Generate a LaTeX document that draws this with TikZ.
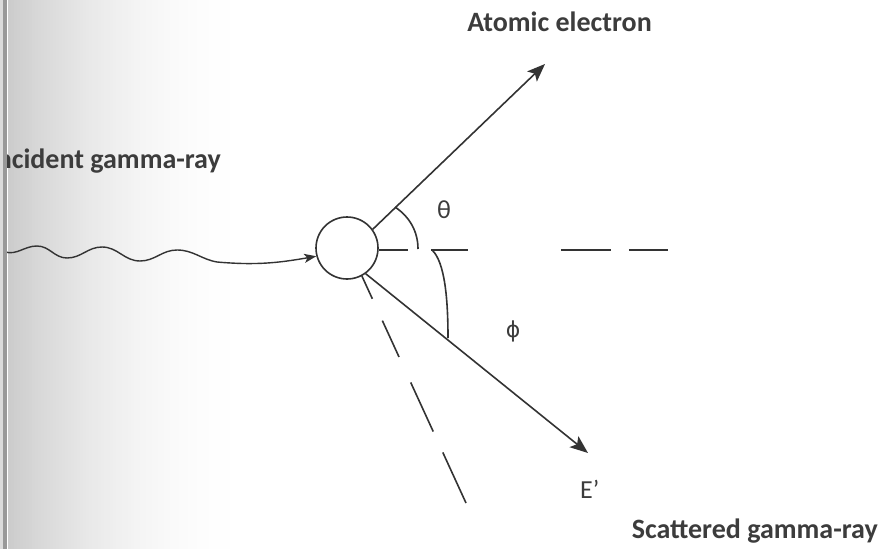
\documentclass[tikz,border=0pt]{standalone}
\usepackage{fontspec}
\setmainfont{Carlito}
\newfontfamily\symfont{DejaVu Sans}
\usetikzlibrary{arrows.meta}
\definecolor{ink}{HTML}{333333}
\definecolor{txt}{HTML}{3C3C3C}
\begin{document}
\begin{tikzpicture}[x=1pt,y=-1pt,
  ray/.style={draw=ink,line width=1.6pt},
  tip/.style={-{Stealth[length=18pt,width=14pt,inset=4pt]}},
  label/.style={text=txt,font=\fontsize{28}{32}\selectfont\bfseries,inner sep=0pt},
  sym/.style={text=txt,font=\fontsize{26}{30}\selectfont,inner sep=0pt}]
\useasboundingbox (0,0) rectangle (880,549);
\clip (0,0) rectangle (880,549);
% scanner shadow
\foreach \i in {0,...,79} {
  \pgfmathsetmacro{\k}{20*(1-\i/80)^2}
  \fill[black!\k] ({8+3*\i},0) rectangle ({8+3*\i+3.2},549);
}
% target
\node[draw=ink,line width=1.6pt,circle,minimum size=62pt,inner sep=0pt] (c) at (347,248) {};
\coordinate (w0) at (5,252);
\coordinate (e1) at (545,64);
\coordinate (s1) at (588,453);
\coordinate (d1) at (466,503);
\coordinate (h1) at (668,250);
% incident wave
\draw[ray,line width=1.4pt,-{Stealth[length=12pt,width=9pt,inset=3pt]}] (w0)
  to[out=-15,in=180] (37,246) to[out=0,in=180] (67,258)
  to[out=0,in=180] (102,247) to[out=0,in=180] (140,261)
  to[out=0,in=180] (177,250) to[out=0,in=170] (217,262)
  to[out=-5,in=190] (c.195);
% atomic electron
\draw[ray,tip] (c.36) -- (e1);
% scattered gamma
\draw[ray,tip] (c.-54) -- (s1);
% dashed reference lines
\draw[ray,dash pattern=on 25pt off 24pt on 40pt off 28pt on 54pt off 23pt on 60pt off 10pt] (c.-62) -- (d1);
\draw[ray,dash pattern=on 29pt off 23pt on 37pt off 93pt on 50pt off 18pt on 60pt off 10pt] (c.east |- 0,250) -- (h1);
% angle arcs
\draw[ray] (395,207) .. controls (410,217) and (418,232) .. (418,249);
\draw[ray] (432,250) .. controls (445,262) and (448,300) .. (448,338);
% labels
\node[label,anchor=base east] (tA) at (652,31) {Atomic electron};
\node[label,anchor=base east] (tI) at (221,168) {Incident gamma-ray};
\node[label,anchor=base east] (tS) at (878,538) {Scattered gamma-ray};
\node[sym,anchor=base west] (tE) at (580,498) {E’};
\node[sym] (th) at (444,210) {θ};
\node[sym,font=\symfont\fontsize{22}{26}\selectfont] (ph) at (513,331) {ϕ};
% page edge bar
\fill[black!14] (0,0) rectangle (3,549);
\fill[black!40] (3,0) rectangle (7,549);
\end{tikzpicture}
\end{document}
